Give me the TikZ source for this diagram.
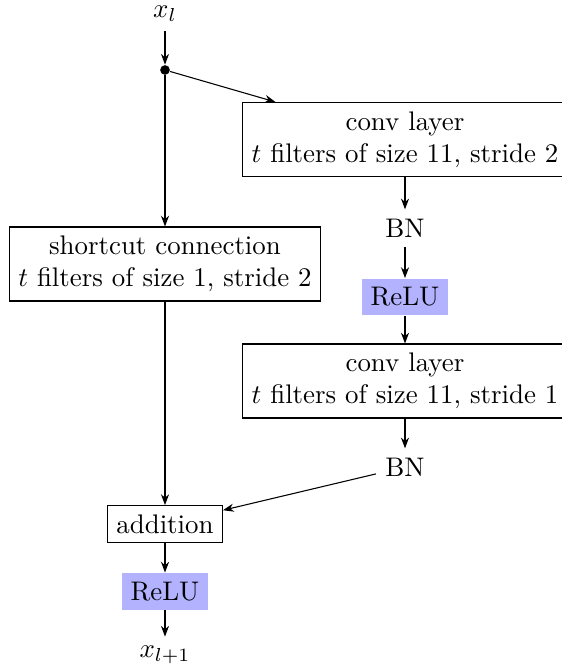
\documentclass[tikz,border=0pt]{standalone}
\usetikzlibrary{arrows.meta}
\begin{document}
\begin{tikzpicture}[x=0.372pt, y=-0.372pt,
  box/.style={draw, align=center, inner sep=3.33pt},
  relubox/.style={fill=blue!30, inner sep=3.33pt},
  plain/.style={inner sep=3.33pt},
  arr/.style={-{Stealth[length=4pt,width=3pt]}},
  junction/.style={circle, fill=black, inner sep=0pt, minimum size=3.6pt}]
\useasboundingbox (0,0) rectangle (561,668);

% input and split point
\node[plain] (xl) at (165,14) {$x_l$};
\node[junction] (split) at (165,70) {};

% residual branch
\node[box] (conv1) at (405,139.5) {conv layer\\ $t$ filters of size 11, stride 2};
\node[plain] (bn1) at (405,228) {BN};
\node[relubox] (relu1) at (405,297) {ReLU};
\node[box] (conv2) at (405,381) {conv layer\\ $t$ filters of size 11, stride 1};
\node[plain] (bn2) at (405,467) {BN};

% shortcut branch
\node[box] (short) at (165,264) {shortcut connection\\ $t$ filters of size 1, stride 2};

% merge and output
\node[box] (add) at (165,524) {addition};
\node[relubox] (relu2) at (165,591.5) {ReLU};
\node[plain] (xout) at (165,655) {$x_{l+1}$};

% connectors
\draw[arr] (xl) -- (split);
\draw[arr] (split) -- (conv1);
\draw[arr] (split) -- (short);
\draw[arr] (conv1) -- (bn1);
\draw[arr] (bn1) -- (relu1);
\draw[arr] (relu1) -- (conv2);
\draw[arr] (conv2) -- (bn2);
\draw[arr] (bn2) -- (add);
\draw[arr] (short) -- (add);
\draw[arr] (add) -- (relu2);
\draw[arr] (relu2) -- (xout);
\end{tikzpicture}
\end{document}
